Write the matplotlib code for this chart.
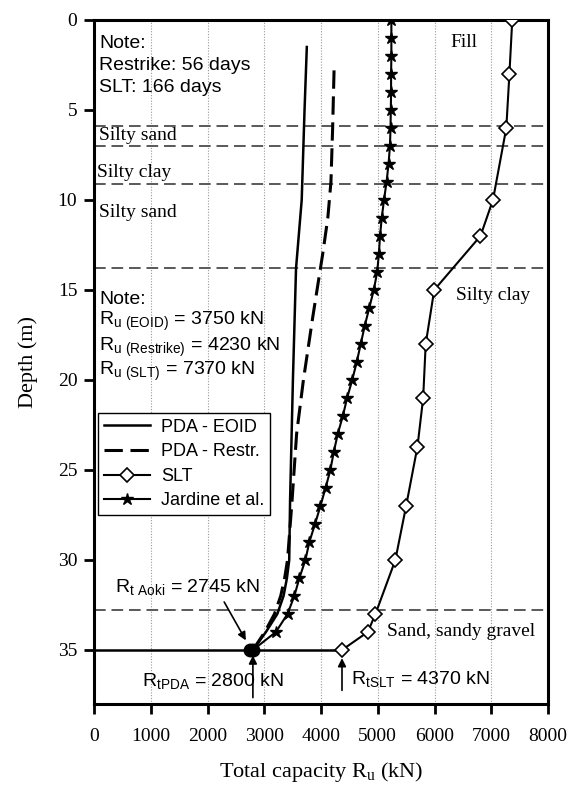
import numpy as np
import matplotlib
matplotlib.use("Agg")
import matplotlib.pyplot as plt

# depth (m) vs capacity (kN)
eoid_depth = [1.5, 5, 10, 13.8, 20, 26.7, 30, 31, 32, 33, 34, 35]
eoid_cap = [3750, 3710, 3660, 3560, 3505, 3455, 3440, 3400, 3340, 3230, 3030, 2800]

restr_depth = [2.8, 6, 9, 11, 13, 16.5, 20, 23, 26.7, 30, 31, 32, 33, 34, 35]
restr_cap = [4230, 4205, 4175, 4120, 4030, 3855, 3690, 3570, 3490, 3410, 3360, 3290, 3180, 3010, 2800]

slt_depth = [0, 3, 6, 10, 12, 15, 18, 21, 23.7, 27, 30, 33, 34, 35]
slt_cap = [7370, 7320, 7265, 7030, 6810, 5995, 5845, 5800, 5700, 5500, 5310, 4960, 4825, 4370]

jard_depth = list(range(0, 36))
jard_cap = [5240, 5240, 5240, 5235, 5235, 5230, 5225, 5215, 5190, 5155, 5110,
            5070, 5040, 5020, 4990, 4930, 4850, 4770, 4700, 4630, 4550, 4460,
            4385, 4295, 4225, 4165, 4080, 3990, 3895, 3795, 3725, 3620, 3530,
            3410, 3205, 2800]

toe_depth = 35
toe_points = [2745, 2800]

layer_bounds = [5.9, 7.0, 9.1, 13.8, 32.8]
layer_names = ["Fill", "Silty sand", "Silty clay", "Silty sand", "Silty clay", "Sand, sandy gravel"]
layer_pos = [(6273, 1.5), (88, 6.67), (53, 8.7), (88, 10.95), (6379, 15.55), (5163, 34.2)]

note1 = ["Note:", "Restrike: 56 days", "SLT: 166 days"]
note1_depth = [1.55, 2.8, 4.0]
note2 = ["Note:",
         r"R$_{\mathregular{u\ (EOID)}}$ = 3750 kN",
         r"R$_{\mathregular{u\ (Restrike)}}$ = 4230 kN",
         r"R$_{\mathregular{u\ (SLT)}}$ = 7370 kN"]
note2_depth = [15.8, 16.95, 18.35, 19.7]

serif = "Liberation Serif"
sans = "Liberation Sans"

fig = plt.figure(figsize=(5.69, 7.87), dpi=100)
ax = fig.add_axes([0.1652, 0.1055, 0.7979, 0.8691])

for xg in range(1000, 8000, 1000):
    ax.axvline(xg, color="0.6", lw=0.8, ls=(0, (1, 1.5)), zorder=0)

for d in layer_bounds:
    ax.axhline(d, color="0.35", lw=1.4, ls=(0, (6, 3)), zorder=1)

ax.hlines(toe_depth, 0, slt_cap[-1], color="black", lw=1.8, zorder=2)

ax.plot(eoid_cap, eoid_depth, color="black", lw=1.8, label="PDA - EOID", zorder=3)
ax.plot(restr_cap, restr_depth, color="black", lw=2.2, ls=(0, (6, 2.5)),
        label="PDA - Restr.", zorder=3)
ax.plot(slt_cap, slt_depth, color="black", lw=1.5, marker="D", ms=7,
        mfc="white", mec="black", mew=1.2, label="SLT", zorder=4)
ax.plot(jard_cap, jard_depth, color="black", lw=1.5, marker="*", ms=9,
        label="Jardine et al.", zorder=4)
ax.plot(toe_points, [toe_depth] * len(toe_points), ls="none", marker="o",
        ms=9, color="black", zorder=5)

for name, (x, y) in zip(layer_names, layer_pos):
    ax.text(x, y, name, family=serif, fontsize=14, va="baseline", ha="left")

for t, d in zip(note1, note1_depth):
    ax.text(88, d, t, family=sans, fontsize=14, va="baseline")
for t, d in zip(note2, note2_depth):
    ax.text(88, d, t, family=sans, fontsize=14, va="baseline")

ax.text(370, 31.8, r"R$_{\mathregular{t\ Aoki}}$ = 2745 kN", family=sans,
        fontsize=14, va="baseline")
ax.annotate("", xy=(2700, 34.6), xytext=(2270, 32.2),
            arrowprops=dict(arrowstyle="-|>", color="black", lw=1.2,
                            mutation_scale=12))
ax.text(846, 37.05, r"R$_{\mathregular{tPDA}}$ = 2800 kN", family=sans,
        fontsize=14, va="baseline")
ax.annotate("", xy=(2800, 35.15), xytext=(2800, 37.8),
            arrowprops=dict(arrowstyle="-|>", color="black", lw=1.2,
                            mutation_scale=12))
ax.text(4529, 36.95, r"R$_{\mathregular{tSLT}}$ = 4370 kN", family=sans,
        fontsize=14, va="baseline")
ax.annotate("", xy=(4370, 35.3), xytext=(4370, 37.4),
            arrowprops=dict(arrowstyle="-|>", color="black", lw=1.2,
                            mutation_scale=12))

ax.set_xlim(0, 8000)
ax.set_ylim(38, 0)
ax.set_xticks(range(0, 8001, 1000))
ax.set_yticks(range(0, 36, 5))
for s in ax.spines.values():
    s.set_linewidth(2.2)
ax.tick_params(axis="both", direction="out", length=7, width=2, labelsize=14)
ax.tick_params(axis="x", pad=10)
ax.tick_params(axis="y", pad=5)
for lab in ax.get_xticklabels() + ax.get_yticklabels():
    lab.set_family(serif)

ax.set_xlabel(r"Total capacity R$_{\mathregular{u}}$ (kN)", family=serif,
              fontsize=16, labelpad=11)
ax.set_ylabel("Depth (m)", family=serif, fontsize=16, labelpad=14)

leg = ax.legend(loc="upper left", bbox_to_anchor=(0.009, 0.425),
                borderaxespad=0, prop={"family": sans, "size": 13},
                fancybox=False, framealpha=1, edgecolor="black",
                handlelength=2.6, handletextpad=0.6, labelspacing=0.42,
                borderpad=0.3)
leg.get_frame().set_linewidth(1.0)

fig.savefig("out.png", dpi=100)
